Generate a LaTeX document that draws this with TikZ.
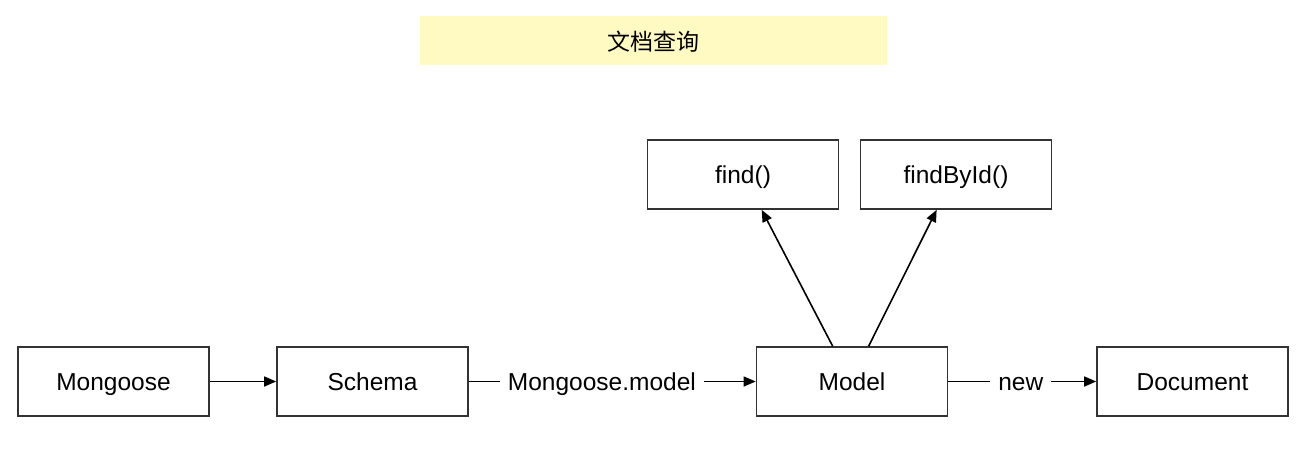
\documentclass[tikz,border=0pt]{standalone}
\usepackage{fontspec}
\setmainfont{Liberation Sans}
\newfontfamily\cjk{Noto Sans CJK SC}
\usetikzlibrary{arrows.meta,calc}
\definecolor{boxline}{HTML}{333333}
\definecolor{titlefill}{HTML}{FFFAC2}
\tikzset{
  txt/.style={font=\fontsize{24.5}{29}\selectfont, text height=17.5pt, text depth=0pt},
  box/.style={txt, draw=boxline, line width=1.7pt, minimum width=191pt, minimum height=69pt, inner sep=0pt},
  arr/.style={draw=black, line width=1.6pt, -{Triangle[length=12pt,width=10pt]}},
  lbl/.style={txt, fill=white, inner sep=8pt},
  titlebox/.style={fill=titlefill, minimum width=467pt, minimum height=49pt, inner sep=0pt, font=\cjk\fontsize{23}{27}\selectfont, text height=20pt, text depth=0pt},
}
\begin{document}
\begin{tikzpicture}[x=1pt,y=-1pt]
\useasboundingbox (0,0) rectangle (1308,452);
\node[titlebox] (title) at (653.5,40.5) {文档查询};
\node[box] (find) at (743,174.5) {find()};
\node[box] (findbyid) at (956,174.5) {findById()};
\node[box] (mongoose) at (113.5,381.5) {Mongoose};
\node[box] (schema) at (372.5,381.5) {Schema};
\node[box] (model) at (852,381.5) {Model};
\node[box] (document) at (1192.5,381.5) {Document};
\draw[arr] (mongoose) -- (schema);
\draw[arr] (schema) -- node[lbl, pos=0.464] {Mongoose.model} (model);
\draw[arr] (model) -- node[lbl, pos=0.49] {new} (document);
\draw[arr] ($(model.north west)+(77,0)$) -- ($(find.south west)+(115,0)$);
\draw[arr] ($(model.north west)+(113,0)$) -- ($(findbyid.south west)+(77,0)$);
\end{tikzpicture}
\end{document}
